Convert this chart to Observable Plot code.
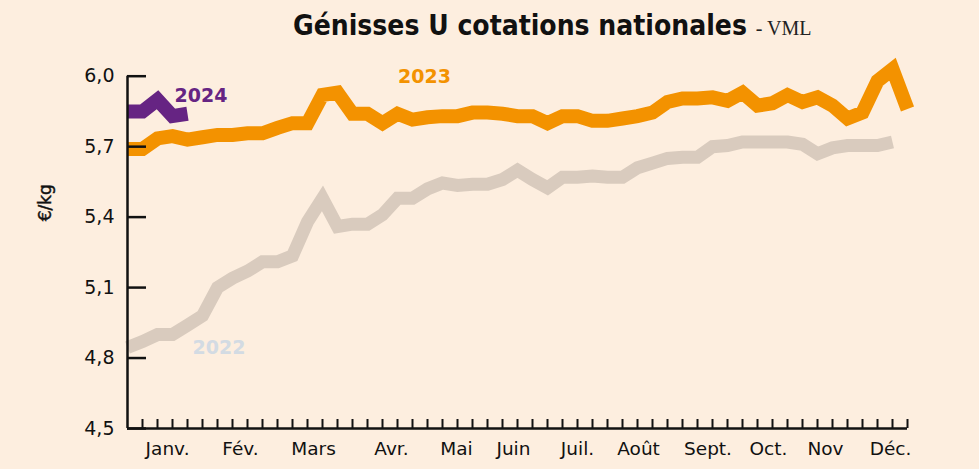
<!DOCTYPE html>
<html>
<head>
<meta charset="utf-8">
<script src="https://cdn.jsdelivr.net/npm/d3@7"></script>
<script src="https://cdn.jsdelivr.net/npm/@observablehq/plot@0.6"></script>
<style>
  html, body { margin: 0; padding: 0; background: #fdeedf; }
  #wrap { width: 979px; height: 469px; background: #fdeedf; position: relative; overflow: hidden; }
  #title { height: 40px; position: relative; }
  #title span.main { position: absolute; left: 293px; top: 10px; font-family: "DejaVu Sans", sans-serif; font-stretch: condensed; font-weight: bold; font-size: 28px; line-height: 32px; color: #111; white-space: nowrap; }
  #title span.src { font-family: "Liberation Serif", serif; font-weight: normal; font-stretch: normal; font-size: 20px; color: #222; }
</style>
</head>
<body>
<div id="wrap">
  <div id="title"><span class="main">Génisses U cotations nationales <span class="src">- VML</span></span></div>
  <div id="chart"></div>
</div>
<script>
// Weekly prices (€/kg), one value per week, week index 0 = first week of January
const prices2022 = [4.845, 4.87, 4.90, 4.90, 4.94, 4.98, 5.10, 5.14, 5.17, 5.21, 5.21, 5.235, 5.38, 5.48, 5.36, 5.37, 5.37, 5.41, 5.48, 5.48, 5.52, 5.545, 5.535, 5.54, 5.54, 5.56, 5.60, 5.56, 5.525, 5.57, 5.57, 5.575, 5.57, 5.57, 5.61, 5.63, 5.65, 5.655, 5.655, 5.70, 5.705, 5.72, 5.72, 5.72, 5.72, 5.71, 5.67, 5.695, 5.705, 5.705, 5.705, 5.72];
const prices2023 = [5.69, 5.69, 5.735, 5.745, 5.73, 5.74, 5.75, 5.75, 5.757, 5.757, 5.78, 5.80, 5.80, 5.92, 5.93, 5.84, 5.84, 5.80, 5.84, 5.815, 5.825, 5.83, 5.83, 5.845, 5.845, 5.84, 5.83, 5.83, 5.80, 5.83, 5.83, 5.81, 5.81, 5.82, 5.83, 5.845, 5.89, 5.905, 5.905, 5.91, 5.895, 5.93, 5.875, 5.885, 5.92, 5.89, 5.91, 5.875, 5.82, 5.845, 5.98, 6.03, 5.86];
const prices2024 = [5.85, 5.85, 5.90, 5.83, 5.84];

const yTicks = [4.5, 4.8, 5.1, 5.4, 5.7, 6.0];
const monthLabels = ["Janv.", "Fév.", "Mars", "Avr.", "Mai", "Juin", "Juil.", "Août", "Sept.", "Oct.", "Nov", "Déc."];
const monthWeeks = [2.67, 7.53, 12.4, 17.6, 21.93, 25.73, 30.0, 34.07, 38.7, 42.73, 46.53, 50.87];
const weekTicks = d3.range(1, 53);

const seriesNames = ["2022", "2023", "2024"];
const seriesColors = ["#d9cbbe", "#f39200", "#662483"];
const labelColors = ["#d3dbe3", "#f39200", "#662483"];
const labelWeeks = [6.1, 19.8, 4.9];
const labelPrices = [4.843, 5.995, 5.918];

const rows = (vals, name) => vals.map((v, i) => ({week: i, price: v, year: name}));
const data2022 = rows(prices2022, "2022");
const data2023 = rows(prices2023, "2023");
const data2024 = rows(prices2024, "2024");
const labels = seriesNames.map((s, i) => ({year: s, week: labelWeeks[i], price: labelPrices[i], color: labelColors[i]}));

const lineOpts = (c, w) => ({x: "week", y: "price", stroke: c, strokeWidth: w, strokeLinejoin: "miter", strokeMiterlimit: 10, strokeLinecap: "butt"});

const chart = Plot.plot({
  width: 979,
  height: 429,
  marginLeft: 127,
  marginRight: 72,
  marginTop: 35.7,
  marginBottom: 41,
  style: {background: "#fdeedf", fontFamily: "'DejaVu Sans', sans-serif", color: "#111", overflow: "visible"},
  x: {domain: [0, 52]},
  y: {domain: [4.5, 6.0]},
  marks: [
    Plot.line(data2022, lineOpts(seriesColors[0], 13)),
    Plot.line(data2023, lineOpts(seriesColors[1], 14)),
    Plot.line(data2024, lineOpts(seriesColors[2], 14)),
    Plot.ruleX([0], {stroke: "#111", strokeWidth: 2.5}),
    Plot.ruleY([4.5], {stroke: "#111", strokeWidth: 2.5}),
    Plot.axisY(yTicks, {tickSize: -19, fill: "none", strokeWidth: 2.5, label: null}),
    Plot.axisY(yTicks, {tickSize: 0, tickPadding: 13, tickFormat: d => d.toFixed(1).replace(".", ","), fontSize: 19, fontWeight: 500, stroke: "#111", strokeWidth: 0.4, label: null}),
    Plot.axisX(weekTicks, {tickSize: -9, fill: "none", strokeWidth: 2, label: null}),
    Plot.axisX(monthWeeks, {tickSize: 0, tickPadding: 13, tickFormat: (d, i) => monthLabels[i], fontSize: 18.5, fontWeight: 500, stroke: "#111", strokeWidth: 0.3, label: null}),
    Plot.text(["€/kg"], {frameAnchor: "left", rotate: -90, dx: -82, dy: -31, fontSize: 17, fontWeight: 500, fill: "#111", stroke: "#111", strokeWidth: 0.4}),
    Plot.text(labels, {x: "week", y: "price", text: "year", fill: "color", fontSize: 19, fontWeight: "bold"})
  ]
});
document.getElementById("chart").appendChild(chart);
</script>
</body>
</html>
